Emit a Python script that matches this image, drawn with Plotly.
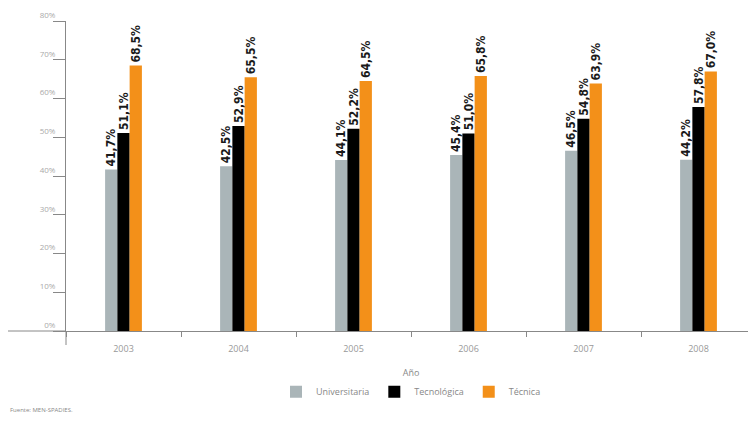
import plotly.graph_objects as go

years = ["2003", "2004", "2005", "2006", "2007", "2008"]
universitaria = [41.7, 42.5, 44.1, 45.4, 46.5, 44.2]
tecnologica = [51.1, 52.9, 52.2, 51.0, 54.8, 57.8]
tecnica = [68.5, 65.5, 64.5, 65.8, 63.9, 67.0]
series_names = ["Universitaria", "Tecnológica", "Técnica"]
colors = ["#aab5b8", "#000000", "#f39019"]
y_ticks = [0, 10, 20, 30, 40, 50, 60, 70, 80]
y_tick_labels = ["0%", "10%", "20%", "30%", "40%", "50%", "60%", "70%", "80%"]

def fmt(v):
    return f"{v:.1f}".replace(".", ",") + "%"

fig = go.Figure()
for name, vals, col in zip(series_names, [universitaria, tecnologica, tecnica], colors):
    fig.add_trace(go.Bar(
        x=years, y=vals, name=name, marker=dict(color=col, line=dict(width=0)),
        text=[fmt(v) for v in vals], textposition="outside", textangle=-90,
        constraintext="none", cliponaxis=False,
        textfont=dict(family="DejaVu Sans Condensed", size=12, color="#1a1a1a", weight="bold"),
    ))

# page body has an 8px default margin, so the figure is 8px smaller
fig.update_layout(
    width=748, height=413,
    margin=dict(l=58, r=0, t=13, b=90),
    paper_bgcolor="white", plot_bgcolor="white",
    barmode="group", bargap=0.68, bargroupgap=0,
    font=dict(family="Open Sans", color="#999999", size=9),
    showlegend=True,
    legend=dict(orientation="h", x=0.5, xanchor="center", y=-0.196, yanchor="middle",
                font=dict(size=9, color="#888888"), itemwidth=30, traceorder="normal"),
    xaxis=dict(
        range=[-0.5, 5.5], showline=True, linecolor="#888888", linewidth=1,
        ticks="outside", tickson="boundaries", ticklen=5, tickcolor="#888888",
        tickfont=dict(size=9, color="#999999"), ticklabelstandoff=9,
        title=dict(text="Año", font=dict(size=9, color="#888888"), standoff=15),
        showgrid=False, zeroline=False, automargin=False,
    ),
    yaxis=dict(
        range=[0, 80], tickmode="array", tickvals=y_ticks, ticktext=y_tick_labels,
        showline=True,
        linecolor="#888888", linewidth=1, ticks="outside", ticklen=12,
        tickcolor="#888888", tickfont=dict(size=8, color="#aaaaaa"),
        ticklabelshift=-6, ticklabelstandoff=-4,
        showgrid=False, zeroline=False, automargin=False,
    ),
)

# axis extensions
fig.add_shape(type="line", xref="paper", yref="paper", x0=-58/690, x1=0, y0=0, y1=0,
              line=dict(color="#888888", width=1))
fig.add_shape(type="line", xref="paper", yref="paper", x0=0, x1=0, y0=0, y1=-14/310,
              line=dict(color="#888888", width=1))

fig.add_annotation(text="Fuente: MEN-SPADIES.", xref="paper", yref="paper",
                   x=-58/690, y=-79/310, xanchor="left", yanchor="middle",
                   showarrow=False, font=dict(size=6, color="#888888"))

fig.write_html("out.html")
